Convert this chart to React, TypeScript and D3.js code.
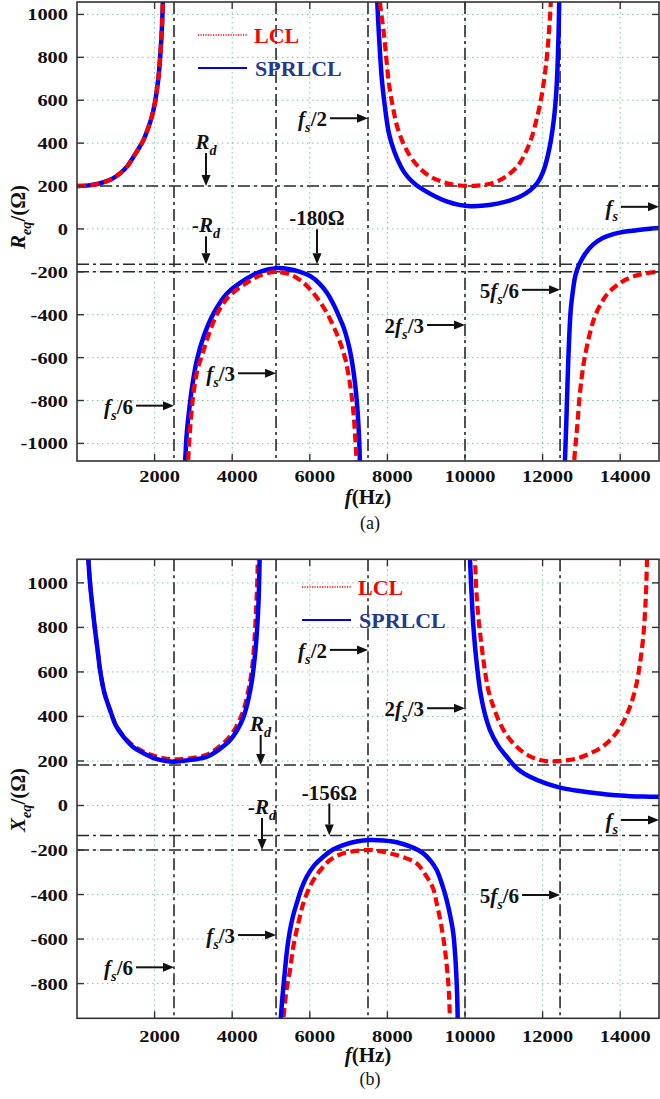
import * as d3 from 'd3';

type Pt = [number, number];
type Part = { t: string; i?: boolean; sub?: boolean };

// frequency axis (Hz)
const xTicks = [2000, 4000, 6000, 8000, 10000, 12000, 14000];
const yTicksA = [-1000, -800, -600, -400, -200, 0, 200, 400, 600, 800, 1000];
const yTicksB = [-800, -600, -400, -200, 0, 200, 400, 600, 800, 1000];

// reference lines: fs/6, fs/3, fs/2, 2fs/3, 5fs/6
const vLinesA = [2500, 5130, 7500, 10000, 12450];
const vLinesB = [2500, 5130, 7500, 10000, 12450];
const hLinesA = [200, -165, -200];
const hLinesB = [182, -135, -200];

// (a) equivalent resistance R_eq (Ohm)
const reqBoth1: Pt[] = [[0, 200], [300, 203], [600, 213], [900, 233], [1110, 259], [1300, 293], [1455, 336], [1600, 378], [1713, 414], [1830, 468], [1928, 523], [2000, 580], [2058, 647], [2110, 725], [2143, 802], [2180, 905], [2203, 1005], [2225, 1120]];
const reqSpr2: Pt[] = [[2770, -1140], [2790, -1075], [2830, -950], [2900, -830], [2980, -720], [3090, -611], [3262, -503], [3520, -394], [3865, -301], [4381, -231], [4750, -198], [5130, -183], [5450, -187], [5750, -200], [6016, -220], [6250, -255], [6450, -300], [6620, -355], [6770, -415], [6877, -462], [6980, -525], [7060, -590], [7130, -670], [7190, -760], [7235, -860], [7270, -970], [7290, -1078], [7300, -1140]];
const reqLcl2: Pt[] = [[2850, -1140], [2870, -1060], [2920, -920], [3000, -770], [3100, -660], [3240, -580], [3400, -490], [3600, -400], [3900, -318], [4400, -248], [4800, -212], [5130, -200], [5500, -213], [5800, -245], [6050, -290], [6260, -340], [6447, -394], [6650, -470], [6791, -534], [6920, -610], [7006, -689], [7080, -780], [7134, -876], [7180, -1000], [7204, -1078], [7215, -1140]];
const reqSpr3: Pt[] = [[7720, 1120], [7738, 1060], [7780, 911], [7820, 790], [7867, 678], [7950, 550], [8040, 445], [8180, 360], [8350, 290], [8470, 255], [8600, 228], [8750, 204], [8942, 181], [9250, 150], [9545, 127], [9850, 112], [10147, 106], [10500, 109], [10835, 118], [11150, 132], [11438, 152], [11680, 180], [11868, 215], [12010, 265], [12127, 336], [12220, 420], [12298, 523], [12350, 630], [12385, 756], [12410, 900], [12428, 1060], [12435, 1120]];
const reqLcl3: Pt[] = [[7790, 1120], [7806, 1060], [7909, 911], [8040, 678], [8140, 570], [8254, 476], [8420, 395], [8598, 336], [8850, 280], [9114, 243], [9450, 218], [9804, 204], [10232, 201], [10550, 207], [10835, 222], [11100, 250], [11353, 292], [11530, 345], [11696, 414], [11830, 500], [11955, 600], [12050, 710], [12127, 834], [12180, 960], [12213, 1060], [12225, 1120]];
const reqSpr4: Pt[] = [[12560, -1140], [12577, -1077], [12621, -845], [12662, -611], [12724, -379], [12780, -290], [12835, -225], [12900, -185], [12964, -158], [13100, -115], [13307, -72], [13550, -42], [13822, -24], [14100, -13], [14425, -6], [14700, 0], [15000, 4]];
const reqLcl4: Pt[] = [[12800, -1140], [12815, -1080], [12860, -985], [12902, -900], [12944, -800], [13010, -690], [13073, -612], [13200, -500], [13333, -415], [13500, -350], [13678, -301], [13900, -265], [14108, -240], [14350, -221], [14623, -208], [15000, -200]];

// (b) equivalent reactance X_eq (Ohm)
const xeqSpr1: Pt[] = [[280, 1180], [292, 1110], [336, 999], [400, 890], [465, 789], [530, 700], [594, 609], [700, 510], [852, 429], [1000, 360], [1196, 309], [1450, 262], [1713, 235], [2000, 212], [2300, 200], [2500, 197], [2700, 200], [3000, 206], [3349, 219], [3650, 250], [3950, 294], [4150, 345], [4294, 399], [4420, 480], [4511, 564], [4590, 680], [4640, 789], [4680, 920], [4708, 1110], [4720, 1180]];
const xeqLcl1: Pt[] = [[280, 1180], [292, 1110], [336, 999], [400, 890], [465, 789], [530, 700], [594, 609], [700, 510], [852, 429], [1000, 362], [1196, 312], [1450, 268], [1713, 242], [2000, 222], [2300, 210], [2500, 207], [2700, 208], [3000, 214], [3349, 228], [3650, 262], [3950, 312], [4150, 370], [4294, 430], [4420, 520], [4511, 615], [4580, 760], [4620, 900], [4645, 1000], [4660, 1100], [4670, 1180]];
const xeqSpr2: Pt[] = [[5230, -1010], [5260, -940], [5300, -850], [5361, -739], [5420, -640], [5490, -560], [5570, -495], [5662, -440], [5780, -375], [5920, -320], [6120, -268], [6348, -230], [6600, -198], [6863, -178], [7200, -162], [7552, -155], [7900, -157], [8240, -165], [8600, -185], [8925, -215], [9120, -250], [9271, -290], [9420, -360], [9528, -425], [9630, -505], [9698, -574], [9750, -680], [9786, -799], [9805, -900], [9815, -1010]];
const xeqLcl2: Pt[] = [[5300, -1010], [5317, -964], [5400, -830], [5490, -739], [5570, -640], [5662, -560], [5750, -495], [5832, -440], [5950, -385], [6090, -336], [6300, -285], [6521, -245], [6780, -220], [7036, -208], [7300, -202], [7552, -200], [7800, -205], [8067, -215], [8400, -232], [8755, -260], [9013, -320], [9183, -375], [9271, -440], [9380, -530], [9485, -649], [9570, -799], [9600, -900], [9620, -1010]];
const xeqSpr3: Pt[] = [[10110, 1200], [10129, 1106], [10150, 1020], [10173, 938], [10210, 820], [10258, 714], [10320, 610], [10387, 519], [10500, 420], [10644, 339], [10850, 270], [11075, 219], [11350, 165], [11675, 129], [12100, 98], [12534, 77], [13000, 64], [13394, 55], [13800, 47], [14253, 42], [14600, 40], [15000, 39]];
const xeqLcl3: Pt[] = [[10240, 1200], [10258, 1106], [10302, 938], [10360, 820], [10430, 714], [10510, 610], [10601, 519], [10750, 435], [10902, 369], [11100, 310], [11332, 264], [11600, 228], [11933, 204], [12250, 198], [12534, 201], [12900, 212], [13222, 234], [13550, 265], [13822, 309], [14050, 365], [14253, 444], [14400, 530], [14510, 639], [14590, 750], [14639, 864], [14670, 980], [14690, 1106], [14700, 1200]];

const FONT = '"Liberation Serif", "Times New Roman", serif';
const RED = '#ff0000';
const BLUE = '#0000ff';

const fs = (tail: string): Part[] => [{ t: 'f', i: true }, { t: 's', i: true, sub: true }, { t: tail }];

function Rich({ parts, x, y, anchor = 'start', size = 21, fill = '#111' }: { parts: Part[]; x: number; y: number; anchor?: string; size?: number; fill?: string }) {
  let shift = 0;
  return (
    <text x={x} y={y} textAnchor={anchor} fontSize={size} fontFamily={FONT} fontWeight="bold" fill={fill}>
      {parts.map((p, k) => {
        const want = p.sub ? size * 0.28 : 0;
        const dy = want - shift;
        shift = want;
        return (
          <tspan key={k} dy={dy} fontStyle={p.i ? 'italic' : 'normal'} fontSize={p.sub ? size * 0.68 : size}>
            {p.t}
          </tspan>
        );
      })}
    </text>
  );
}

function Arrow({ x1, y1, x2, y2 }: { x1: number; y1: number; x2: number; y2: number }) {
  const a = Math.atan2(y2 - y1, x2 - x1);
  const L = 11, hw = 4.5;
  const bx = x2 - L * Math.cos(a), by = y2 - L * Math.sin(a);
  const px = -Math.sin(a) * hw, py = Math.cos(a) * hw;
  return (
    <g>
      <line x1={x1} y1={y1} x2={bx} y2={by} stroke="#111" strokeWidth={2} />
      <polygon points={`${x2},${y2} ${bx + px},${by + py} ${bx - px},${by - py}`} fill="#111" />
    </g>
  );
}

type HNote = { parts: Part[]; f: number; v: number };
type VNote = { parts: Part[]; f: number; v: number; len: number };

interface PanelProps {
  id: string;
  top: number;
  bottom: number;
  yDomain: [number, number];
  yTicks: number[];
  vLines: number[];
  hLines: number[];
  lcl: Pt[][];
  spr: Pt[][];
  redOnTop: boolean;
  hNotes: HNote[];
  vNotes: VNote[];
  yLabel: Part[];
  yLabelY: number;
  tickY: number;
  xLabelY: number;
  caption: string;
  captionY: number;
  legend: [number, number];
}

function Panel(p: PanelProps) {
  const x = d3.scaleLinear().domain([0, 15000]).range([77, 659]);
  const y = d3.scaleLinear().domain(p.yDomain).range([p.bottom, p.top]);
  const line = d3.line<Pt>().x(d => x(d[0])).y(d => y(d[1])).curve(d3.curveCatmullRom.alpha(0.5));
  const [x0, x1] = x.range();

  const redPaths = p.lcl.map((s, k) => (
    <path key={'r' + k} d={line(s) || ''} fill="none" stroke={RED} strokeWidth={4.2} strokeDasharray="9,4.5" />
  ));
  const bluePaths = p.spr.map((s, k) => (
    <path key={'b' + k} d={line(s) || ''} fill="none" stroke={BLUE} strokeWidth={4.5} />
  ));

  return (
    <g>
      <defs>
        <clipPath id={p.id}>
          <rect x={x0} y={p.top} width={x1 - x0} height={p.bottom - p.top} />
        </clipPath>
      </defs>
      {/* grid */}
      {xTicks.map(t => (
        <line key={'gx' + t} x1={x(t)} x2={x(t)} y1={p.top} y2={p.bottom} stroke="#7cc9a4" strokeWidth={1} strokeDasharray="1.5,3.5" />
      ))}
      {p.yTicks.map(t => (
        <line key={'gy' + t} x1={x0} x2={x1} y1={y(t)} y2={y(t)} stroke="#7cc9a4" strokeWidth={1} strokeDasharray="1.5,3.5" />
      ))}
      {/* reference dash-dot lines */}
      {p.vLines.map(f => (
        <line key={'v' + f} x1={x(f)} x2={x(f)} y1={p.top} y2={p.bottom} stroke="#2a2a2a" strokeWidth={1.6} strokeDasharray="12,4,3,4" />
      ))}
      {p.hLines.map(v => (
        <line key={'h' + v} x1={x0} x2={x1} y1={y(v)} y2={y(v)} stroke="#2a2a2a" strokeWidth={1.6} strokeDasharray="12,4,3,4" />
      ))}
      <g clipPath={`url(#${p.id})`}>
        {p.redOnTop ? [bluePaths, redPaths] : [redPaths, bluePaths]}
      </g>
      {/* frame and inward ticks */}
      <rect x={x0} y={p.top} width={x1 - x0} height={p.bottom - p.top} fill="none" stroke="#333" strokeWidth={1.6} />
      {xTicks.map(t => (
        <g key={'tx' + t}>
          <line x1={x(t)} x2={x(t)} y1={p.bottom} y2={p.bottom - 7} stroke="#333" strokeWidth={1.4} />
          <line x1={x(t)} x2={x(t)} y1={p.top} y2={p.top + 7} stroke="#333" strokeWidth={1.4} />
          <text transform={`translate(${x(t) + 5},${p.tickY}) scale(1.2,1)`} textAnchor="middle" fontSize={17} fontFamily={FONT} fontWeight="bold" fill="#111">{t}</text>
        </g>
      ))}
      {p.yTicks.map(t => (
        <g key={'ty' + t}>
          <line x1={x0} x2={x0 + 7} y1={y(t)} y2={y(t)} stroke="#333" strokeWidth={1.4} />
          <line x1={x1} x2={x1 - 7} y1={y(t)} y2={y(t)} stroke="#333" strokeWidth={1.4} />
          <text transform={`translate(68,${y(t) + 6}) scale(1.2,1)`} textAnchor="end" fontSize={17} fontFamily={FONT} fontWeight="bold" fill="#111">{t}</text>
        </g>
      ))}
      {/* axis labels */}
      <g transform={`translate(25,${p.yLabelY}) rotate(-90)`}>
        <Rich parts={p.yLabel} x={0} y={0} anchor="middle" size={21} />
      </g>
      <Rich parts={[{ t: 'f', i: true }, { t: '(Hz)' }]} x={368} y={p.xLabelY} anchor="middle" size={21} />
      <text x={370} y={p.captionY} textAnchor="middle" fontSize={18} fontFamily={FONT} fill="#111">{p.caption}</text>
      {/* legend */}
      <line x1={p.legend[0]} x2={p.legend[0] + 49} y1={p.legend[1]} y2={p.legend[1]} stroke={RED} strokeWidth={1.3} strokeDasharray="1.2,1.3" />
      <text x={p.legend[0] + 56} y={p.legend[1] + 7.5} fontSize={22} fontFamily={FONT} fontWeight="bold" fill={RED}>LCL</text>
      <line x1={p.legend[0]} x2={p.legend[0] + 49} y1={p.legend[1] + 33} y2={p.legend[1] + 33} stroke={BLUE} strokeWidth={2} />
      <text x={p.legend[0] + 57} y={p.legend[1] + 40.5} fontSize={22} fontFamily={FONT} fontWeight="bold" fill="#1f3a93">SPRLCL</text>
      {/* annotations */}
      {p.hNotes.map((n, k) => {
        const tx = x(n.f), ty = y(n.v);
        return (
          <g key={'hn' + k}>
            <Arrow x1={tx - 38} y1={ty} x2={tx} y2={ty} />
            <Rich parts={n.parts} x={tx - 41} y={ty + 8} anchor="end" />
          </g>
        );
      })}
      {p.vNotes.map((n, k) => {
        const tx = x(n.f), ty = y(n.v);
        return (
          <g key={'vn' + k}>
            <Arrow x1={tx} y1={ty - n.len} x2={tx} y2={ty} />
            <Rich parts={n.parts} x={tx} y={ty - n.len - 4} anchor="middle" />
          </g>
        );
      })}
    </g>
  );
}

const Rd: Part[] = [{ t: 'R', i: true }, { t: 'd', i: true, sub: true }];
const negRd: Part[] = [{ t: '-', i: true }, { t: 'R', i: true }, { t: 'd', i: true, sub: true }];

export default function App() {
  return (
    <svg width={660} height={1099} style={{ position: 'absolute', left: 0, top: 0, display: 'block', background: '#fff' }}>
      <rect width={660} height={1099} fill="#fff" />
      <Panel
        id="clipA"
        top={2}
        bottom={461}
        yDomain={[-1082, 1058]}
        yTicks={yTicksA}
        vLines={vLinesA}
        hLines={hLinesA}
        lcl={[reqBoth1, reqLcl2, reqLcl3, reqLcl4]}
        spr={[reqBoth1, reqSpr2, reqSpr3, reqSpr4]}
        redOnTop={true}
        hNotes={[
          { parts: fs('/2'), f: 7500, v: 516 },
          { parts: [{ t: '2' }, ...fs('/3')], f: 10000, v: -448 },
          { parts: [{ t: '5' }, ...fs('/6')], f: 12450, v: -284 },
          { parts: fs('/3'), f: 5130, v: -673 },
          { parts: fs('/6'), f: 2500, v: -824 },
          { parts: fs(''), f: 15000, v: 103 },
        ]}
        vNotes={[
          { parts: Rd, f: 3325, v: 200, len: 33 },
          { parts: negRd, f: 3325, v: -165, len: 28 },
          { parts: [{ t: '-180Ω' }], f: 6186, v: -165, len: 35 },
        ]}
        yLabel={[{ t: 'R', i: true }, { t: 'eq', i: true, sub: true }, { t: '/(Ω)' }]}
        yLabelY={217}
        tickY={482}
        xLabelY={504}
        caption="(a)"
        captionY={529}
        legend={[198, 35]}
      />
      <Panel
        id="clipB"
        top={559.3}
        bottom={1018.3}
        yDomain={[-956, 1106]}
        yTicks={yTicksB}
        vLines={vLinesB}
        hLines={hLinesB}
        lcl={[xeqLcl1, xeqLcl2, xeqLcl3]}
        spr={[xeqSpr1, xeqSpr2, xeqSpr3]}
        redOnTop={false}
        hNotes={[
          { parts: fs('/2'), f: 7500, v: 699 },
          { parts: [{ t: '2' }, ...fs('/3')], f: 10000, v: 437 },
          { parts: fs(''), f: 15000, v: -65 },
          { parts: [{ t: '5' }, ...fs('/6')], f: 12450, v: -402 },
          { parts: fs('/3'), f: 5130, v: -582 },
          { parts: fs('/6'), f: 2500, v: -727 },
        ]}
        vNotes={[
          { parts: Rd, f: 4734, v: 182, len: 30 },
          { parts: negRd, f: 4768, v: -200, len: 32 },
          { parts: [{ t: '-156Ω' }], f: 6503, v: -135, len: 32 },
        ]}
        yLabel={[{ t: 'X', i: true }, { t: 'eq', i: true, sub: true }, { t: '/(Ω)' }]}
        yLabelY={800}
        tickY={1042}
        xLabelY={1062}
        caption="(b)"
        captionY={1085}
        legend={[302, 587]}
      />
    </svg>
  );
}
